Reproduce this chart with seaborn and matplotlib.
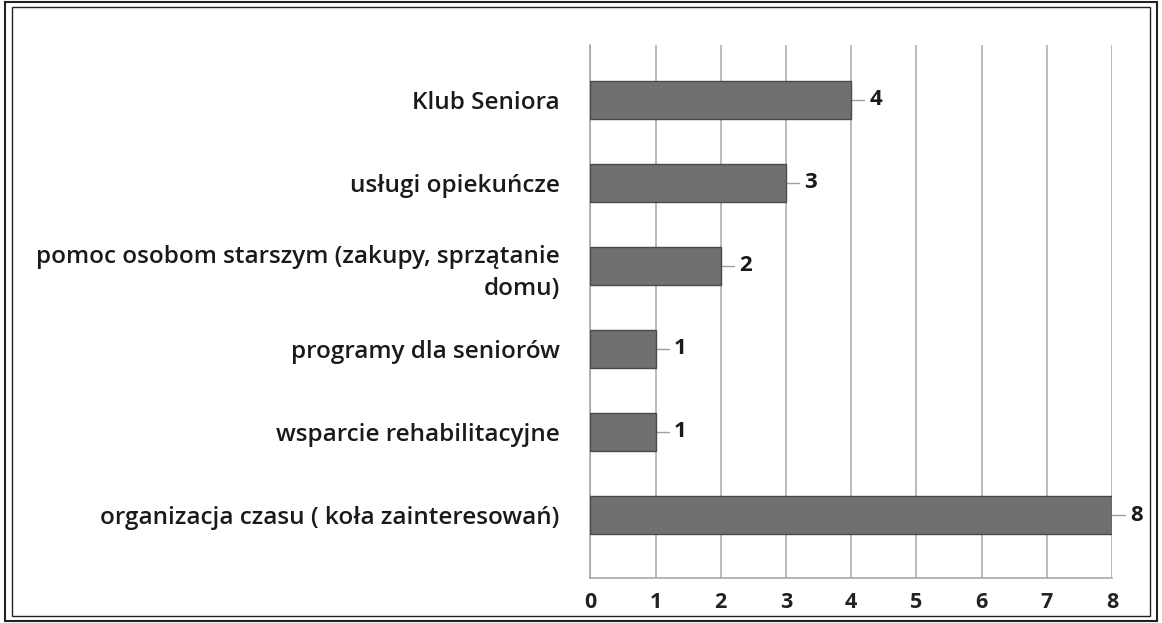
import matplotlib
matplotlib.use("Agg")
import matplotlib.pyplot as plt
import seaborn as sns
import pandas as pd
from matplotlib.patches import Rectangle

categories = [
    "Klub Seniora",
    "usługi opiekuńcze",
    "pomoc osobom starszym (zakupy, sprzątanie\ndomu)",
    "programy dla seniorów",
    "wsparcie rehabilitacyjne",
    "organizacja czasu ( koła zainteresowań)",
]
values = [4, 3, 2, 1, 1, 8]
xticks = [0, 1, 2, 3, 4, 5, 6, 7, 8]

sns.set_theme(style="white")
plt.rcParams["font.family"] = ["Open Sans", "DejaVu Sans"]

df = pd.DataFrame({"cat": categories, "val": values})

fig = plt.figure(figsize=(11.62, 6.23), dpi=100)
ax = fig.add_axes([0.508, 0.072, 0.449, 0.856])

sns.barplot(data=df, x="val", y="cat", orient="h", color="#707070",
            width=0.46, edgecolor="#4a4a4a", linewidth=1.0, ax=ax, zorder=3)

ax.set_xlim(0, 8)
ax.set_ylim(5.76, -0.66)
ax.set_xticks(xticks)
ax.set_xticklabels([str(t) for t in xticks], fontsize=15.5, fontweight="bold", color="#222222")
ax.tick_params(axis="x", length=0, pad=10)
ax.tick_params(axis="y", length=0, pad=22)
for lab in ax.get_yticklabels():
    lab.set_fontsize(17.5)
    lab.set_fontweight("semibold")
    lab.set_color("#1a1a1a")
    lab.set_multialignment("right")
    lab.set_linespacing(1.45)
ax.set_xlabel("")
ax.set_ylabel("")
ax.xaxis.grid(True, color="#a8a8a8", linewidth=1.1, zorder=0)
ax.set_axisbelow(True)
for s in ["top", "right"]:
    ax.spines[s].set_visible(False)
for s in ["left", "bottom"]:
    ax.spines[s].set_color("#a0a0a0")
    ax.spines[s].set_linewidth(1.1)

for i, v in enumerate(values):
    ax.plot([v, v + 0.2], [i, i], color="#a0a0a0", linewidth=1, zorder=2, clip_on=False)
    ax.text(v + 0.28, i, str(v), va="center", ha="left", fontsize=16,
            fontweight="bold", color="#1a1a1a", clip_on=False)

# double frame around the figure
fig.patches.append(Rectangle((0.004, 0.004), 0.992, 0.992, transform=fig.transFigure,
                             fill=False, edgecolor="#222222", linewidth=1.5))
fig.patches.append(Rectangle((0.010, 0.012), 0.980, 0.976, transform=fig.transFigure,
                             fill=False, edgecolor="#222222", linewidth=1.0))

fig.savefig("out.png", dpi=100)
